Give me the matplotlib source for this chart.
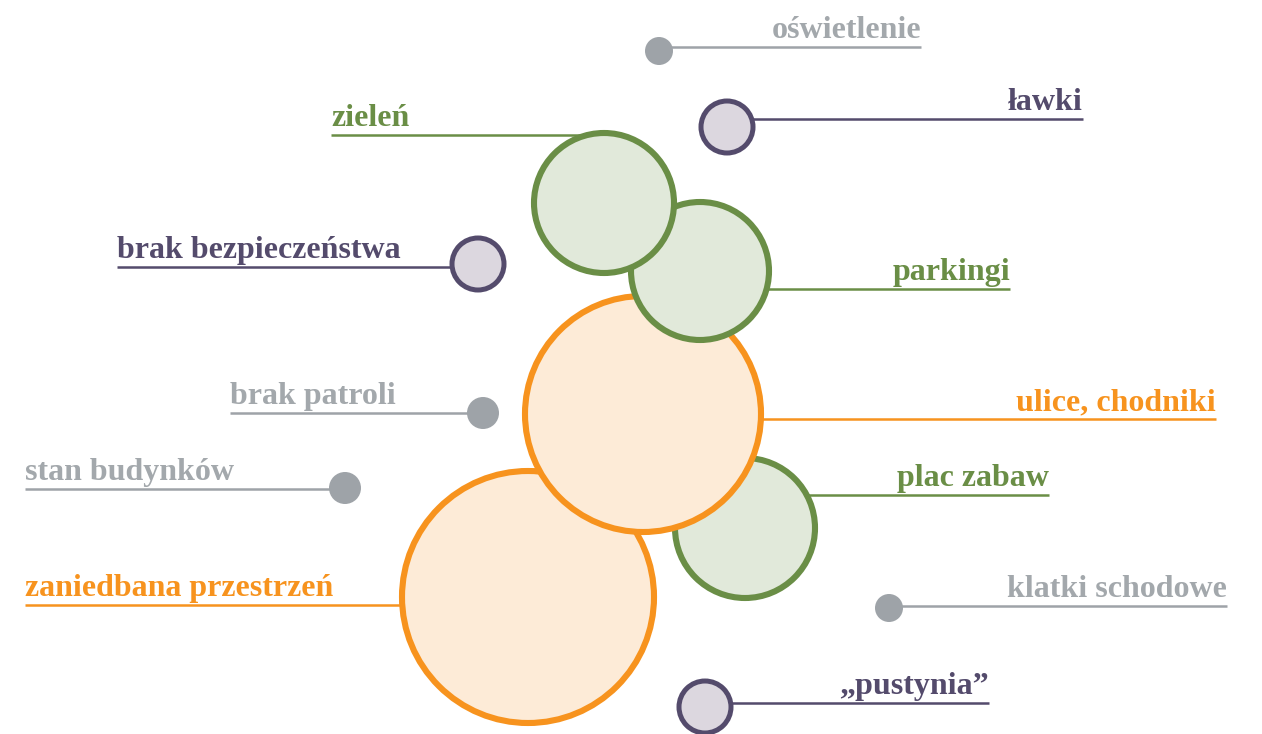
import matplotlib
matplotlib.use("Agg")
import matplotlib.pyplot as plt
from matplotlib.patches import Circle

# labels and bubble sizes (radius in px)
labels = ["oświetlenie", "ławki", "zieleń", "parkingi", "brak bezpieczeństwa",
          "ulice, chodniki", "brak patroli", "stan budynków", "plac zabaw",
          "zaniedbana przestrzeń", "klatki schodowe", "„pustynia”"]
groups = ["gray", "purple", "green", "green", "purple",
          "orange", "gray", "gray", "green", "orange", "gray", "purple"]
radius = [14, 26, 70, 69, 26, 118, 16, 16, 70, 126, 14, 26]

# layout (pixel coordinates)
cx = [659, 727, 604, 700, 478, 643, 483, 345, 745, 528, 889, 705]
cy = [51, 127, 203, 271, 264, 414, 413, 488, 528, 597, 608, 707]
line_y = [47, 119, 135, 289, 267, 419, 413, 489, 495, 605, 606, 703]
line_end = [921, 1083, 331, 1010, 117, 1216, 230, 25, 1049, 25, 1227, 989]
draw_order = [9, 8, 5, 3, 2, 0, 1, 4, 6, 7, 10, 11]

colors = {
    "gray": ("#9ea3a8", "#9ea3a8", "#a3a8ac"),
    "purple": ("#dcd7df", "#544b6c", "#544b6c"),
    "green": ("#e1e9da", "#6a8e46", "#6a8e46"),
    "orange": ("#fdebd7", "#f7931e", "#f7931e"),
}

plt.rcParams["font.family"] = ["Liberation Serif", "DejaVu Serif"]

fig = plt.figure(figsize=(12.62, 7.34), dpi=100)
ax = fig.add_axes([0, 0, 1, 1])
ax.set_xlim(0, 1262)
ax.set_ylim(734, 0)
ax.set_aspect("equal")
ax.axis("off")

for i, lab in enumerate(labels):
    fill, edge, tcol = colors[groups[i]]
    x0 = cx[i]
    x1 = line_end[i]
    ax.plot([x0, x1], [line_y[i], line_y[i]], color=edge, lw=1.8,
            solid_capstyle="butt", zorder=1)
    ha = "right" if x1 > x0 else "left"
    ax.text(x1, line_y[i] - 9, lab, ha=ha, va="baseline", fontsize=23,
            fontweight="bold", color=tcol, zorder=5)

for i in draw_order:
    fill, edge, tcol = colors[groups[i]]
    if groups[i] == "gray":
        c = Circle((cx[i], cy[i]), radius[i], facecolor=fill, edgecolor="none",
                   zorder=2 + draw_order.index(i))
    else:
        lw = 3.6 if radius[i] < 40 else 4.4
        c = Circle((cx[i], cy[i]), radius[i], facecolor=fill, edgecolor=edge,
                   lw=lw, zorder=2 + draw_order.index(i))
    ax.add_patch(c)

fig.savefig("out.png", dpi=100)
